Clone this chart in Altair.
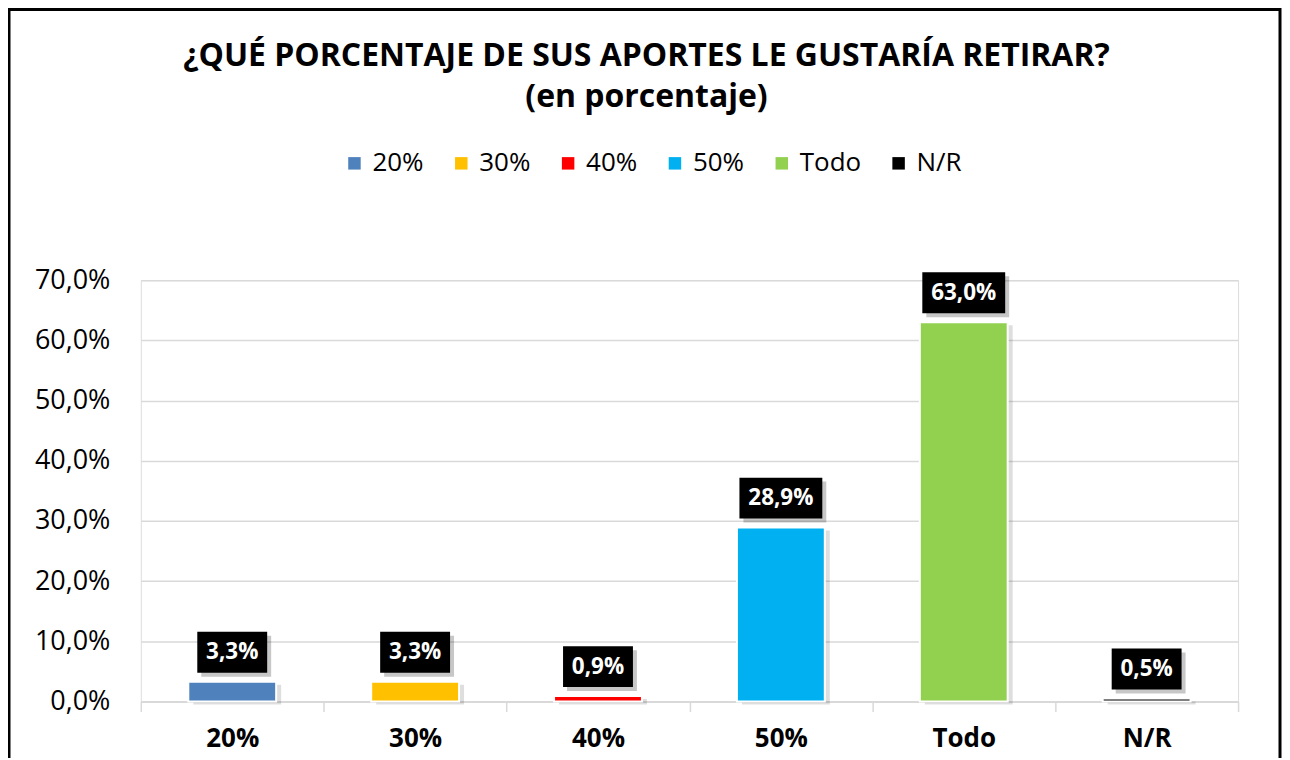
import altair as alt
import pandas as pd

categories = ["20%", "30%", "40%", "50%", "Todo", "N/R"]
values = [3.3, 3.3, 0.9, 28.9, 63.0, 0.5]
labels = ["3,3%", "3,3%", "0,9%", "28,9%", "63,0%", "0,5%"]
colors = ["#4F81BD", "#FFC000", "#FF0000", "#00B0F0", "#92D050", "#000000"]
y_ticks = [0, 10, 20, 30, 40, 50, 60, 70]
title_lines = ["¿QUÉ PORCENTAJE DE SUS APORTES LE GUSTARÍA RETIRAR?", "(en porcentaje)"]

df = pd.DataFrame({"cat": categories, "value": values, "label": labels})

FONT = "Open Sans"
W, H = 1099, 422

x_enc = alt.X(
    "cat:N", sort=categories,
    scale=alt.Scale(paddingInner=0, paddingOuter=0),
    axis=alt.Axis(title=None, labelFontSize=26, labelFontWeight="bold", labelColor="#000",
                  labelFont=FONT, labelAngle=0, tickBand="extent", tickSize=10,
                  tickColor="#d9d9d9", tickWidth=1.5, domainColor="#d9d9d9", domainWidth=2,
                  labelPadding=14, grid=False),
)
y_enc = alt.Y(
    "value:Q",
    scale=alt.Scale(domain=[0, 70], nice=False),
    axis=alt.Axis(title=None, values=y_ticks,
                  labelExpr="replace(format(datum.value, '.1f'), '.', ',') + '%'",
                  labelFontSize=27, labelFont=FONT, labelColor="#000", labelPadding=31,
                  ticks=False, domain=False, gridColor="#d9d9d9", gridWidth=1.5),
)

base = alt.Chart(df)

bar_shadow = base.mark_bar(width=88, color="#000", opacity=0.13, xOffset=5, yOffset=3).encode(
    x=x_enc, y=y_enc
)

bars = base.mark_bar(width=88, stroke="white", strokeWidth=2).encode(
    x=x_enc, y=y_enc,
    color=alt.Color(
        "cat:N", sort=categories,
        scale=alt.Scale(domain=categories, range=colors),
        legend=alt.Legend(title=None, orient="none", direction="horizontal",
                          legendX=201, legendY=-130, symbolType="square", symbolSize=156,
                          symbolStrokeWidth=0, labelFontSize=26, labelFont=FONT,
                          labelColor="#000", labelOffset=5, columnPadding=24,
                          symbolOpacity=1),
    ),
)

box_base = base.transform_calculate(boxw="length(datum.label) >= 5 ? 83 : 70")

box_shadow = box_base.mark_bar(color="#000", opacity=0.22, xOffset=4, yOffset=-46, y2Offset=-5).encode(
    x=x_enc, y=alt.Y("value:Q"), y2=alt.Y2("value:Q"),
    size=alt.Size("boxw:Q", scale=None, legend=None),
)

boxes = box_base.mark_bar(color="#000", yOffset=-50, y2Offset=-9).encode(
    x=x_enc, y=alt.Y("value:Q"), y2=alt.Y2("value:Q"),
    size=alt.Size("boxw:Q", scale=None, legend=None),
)

texts = base.mark_text(color="white", fontWeight="bold", fontSize=22.5, font=FONT,
                       baseline="middle", yOffset=-29.5).encode(
    x=x_enc, y=alt.Y("value:Q"), text="label:N"
)

frame = alt.Chart(pd.DataFrame({"k": [0]})).mark_rect(
    fillOpacity=0, stroke="#000", strokeWidth=3
).encode(x=alt.value(-132), x2=alt.value(1141), y=alt.value(-271), y2=alt.value(490))

chart = alt.layer(frame, bar_shadow, bars, box_shadow, boxes, texts).properties(
    width=W, height=H,
    title=alt.TitleParams(text=title_lines, fontSize=32, font=FONT, fontWeight="bold",
                          color="#000", anchor="middle", dx=-43, dy=110, lineHeight=41,
                          frame="group"),
    autosize=alt.AutoSizeParams(type="none"),
    padding={"left": 133, "top": 272, "right": 44, "bottom": 56},
).configure_view(stroke=None).configure(background="white")

chart.save("out.html", embed_options={"renderer": "svg", "actions": False})
